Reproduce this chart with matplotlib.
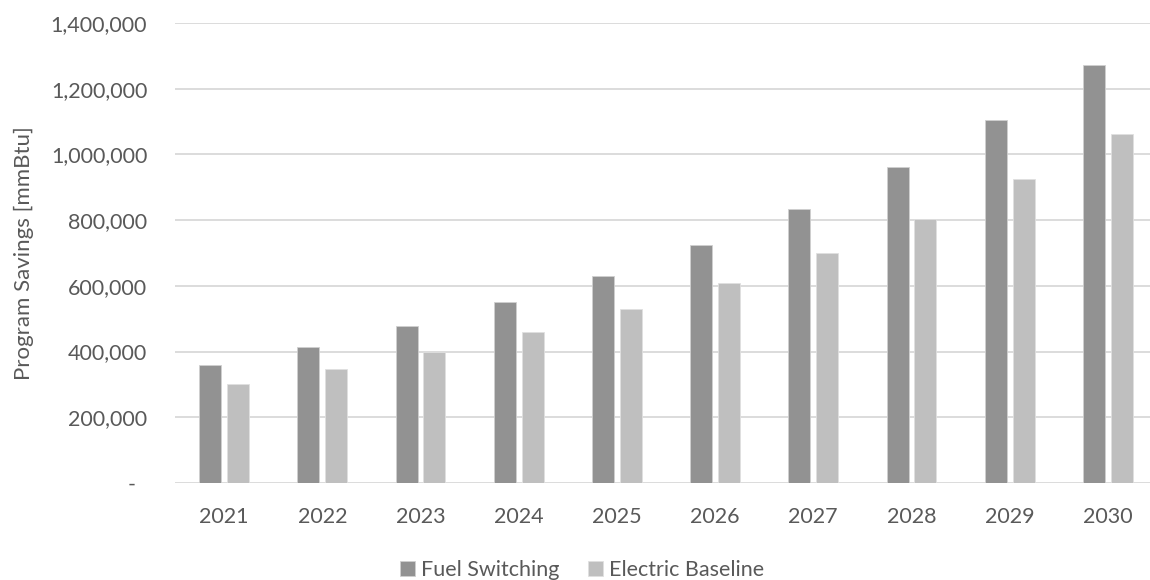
import numpy as np
from matplotlib import pyplot as plt
from matplotlib.ticker import FuncFormatter

years = ["2021", "2022", "2023", "2024", "2025", "2026", "2027", "2028", "2029", "2030"]
fuel_switching = [359000, 414000, 477000, 550000, 631000, 724000, 835000, 961000, 1105000, 1271000]
electric_baseline = [301000, 347000, 399000, 460000, 529000, 608000, 699000, 803000, 925000, 1063000]

plt.rcParams['font.family'] = ['Lato', 'DejaVu Sans']
txt = "#595959"

fig = plt.figure(figsize=(11.5, 5.8), dpi=100)
ax = fig.add_axes([175/1150, 97/580, (1150-175)/1150, 460/580])

x = np.arange(len(years))
w = 0.224
ax.bar(x - 0.142, fuel_switching, w, color="#929292", edgecolor="#d0d0d0", linewidth=0.6,
       label="Fuel Switching", zorder=3)
ax.bar(x + 0.142, electric_baseline, w, color="#bfbfbf", edgecolor="#e0e0e0", linewidth=0.6,
       label="Electric Baseline", zorder=3)

ax.set_xlim(-0.5, -0.5 + 975/98.2)
ax.set_ylim(0, 1400000)
ax.set_yticks(np.arange(0, 1400001, 200000))
ax.yaxis.set_major_formatter(FuncFormatter(lambda v, p: "-  " if v == 0 else f"{int(v):,}"))
ax.set_xticks(x)
ax.set_xticklabels(years)
ax.grid(axis="y", color="#d9d9d9", linewidth=1.3, zorder=0)
for s in ["top", "right", "left", "bottom"]:
    ax.spines[s].set_visible(False)
ax.tick_params(length=0, labelsize=15.5, colors=txt)
ax.tick_params(axis="x", pad=17)
ax.tick_params(axis="y", pad=20)
ax.set_ylabel("Program Savings [mmBtu]", fontsize=16, color=txt)
ax.yaxis.set_label_coords(-141/975, 0.5)

ax.legend(loc="center", bbox_to_anchor=(407/975, -0.189), ncol=2, frameon=False,
          fontsize=15.5, labelcolor=txt, handlelength=0.7, handleheight=0.7,
          handletextpad=0.3, columnspacing=1.3)

fig.savefig("out.png", dpi=100)
